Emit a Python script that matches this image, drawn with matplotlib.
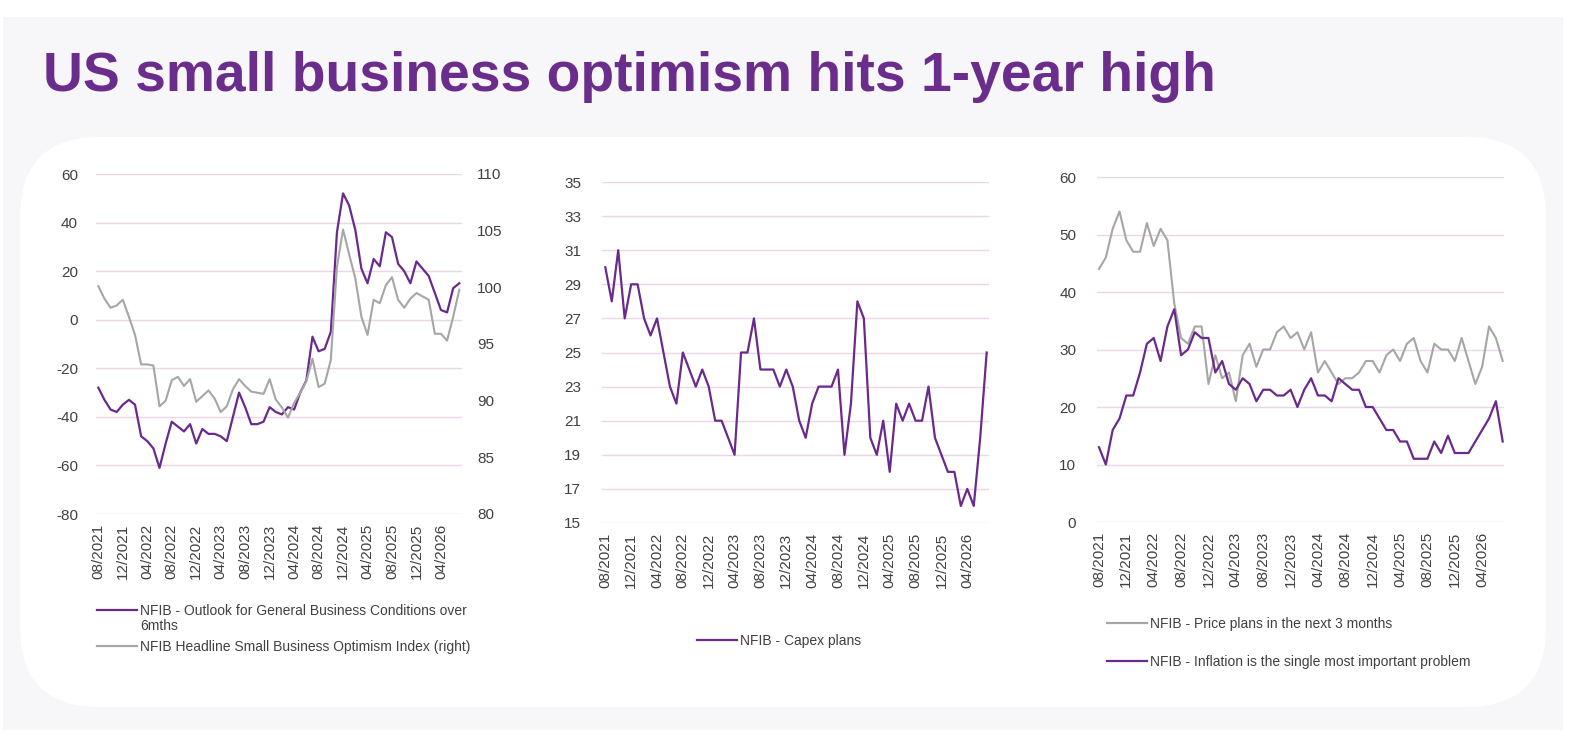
import matplotlib
matplotlib.use("Agg")
import matplotlib.pyplot as plt
from matplotlib.patches import Rectangle, FancyBboxPatch
from matplotlib.lines import Line2D

plt.rcParams['font.family'] = ['Liberation Sans', 'DejaVu Sans']
plt.rcParams['axes.unicode_minus'] = False

PURPLE = '#6a2a8c'
GREY = '#a6a6a6'
GRID = '#ead6ea'
TXT = '#404040'

# monthly data, 08/2021 .. 07/2026
tick_labels = ["08/2021", "12/2021", "04/2022", "08/2022", "12/2022", "04/2023",
               "08/2023", "12/2023", "04/2024", "08/2024", "12/2024", "04/2025",
               "08/2025", "12/2025", "04/2026"]

outlook = [-28, -33, -37, -38, -35, -33, -35, -48, -50, -53,
           -61, -51, -42, -44, -46, -43, -51, -45, -47, -47,
           -48, -50, -40, -30, -36, -43, -43, -42, -36, -38,
           -39, -36, -37, -30, -25, -7, -13, -12, -5, 36,
           52, 47, 37, 21, 15, 25, 22, 36, 34, 23,
           20, 15, 24, 21, 18, 11, 4, 3, 13, 15]

optimism = [100.1, 99.0, 98.2, 98.4, 98.9, 97.4, 95.8, 93.2, 93.2, 93.1,
            89.5, 90.0, 91.8, 92.1, 91.3, 91.9, 89.9, 90.4, 90.9, 90.2,
            89.0, 89.5, 91.0, 91.9, 91.3, 90.8, 90.7, 90.6, 91.9, 90.1,
            89.4, 88.5, 89.8, 90.7, 91.7, 93.7, 91.2, 91.5, 93.6, 101.8,
            105.1, 102.9, 100.8, 97.4, 95.8, 98.9, 98.6, 100.2, 100.9, 98.9,
            98.2, 99.0, 99.5, 99.2, 98.9, 95.9, 95.9, 95.3, 97.4, 99.8]

capex = [30, 28, 31, 27, 29, 29, 27, 26, 27, 25,
         23, 22, 25, 24, 23, 24, 23, 21, 21, 20,
         19, 25, 25, 27, 24, 24, 24, 23, 24, 23,
         21, 20, 22, 23, 23, 23, 24, 19, 22, 28,
         27, 20, 19, 21, 18, 22, 21, 22, 21, 21,
         23, 20, 19, 18, 18, 16, 17, 16, 20, 25]

price_plans = [44, 46, 51, 54, 49, 47, 47, 52, 48, 51,
               49, 38, 32, 31, 34, 34, 24, 29, 25, 26,
               21, 29, 31, 27, 30, 30, 33, 34, 32, 33,
               30, 33, 26, 28, 26, 24, 25, 25, 26, 28,
               28, 26, 29, 30, 28, 31, 32, 28, 26, 31,
               30, 30, 28, 32, 28, 24, 27, 34, 32, 28]

inflation = [13, 10, 16, 18, 22, 22, 26, 31, 32, 28,
             34, 37, 29, 30, 33, 32, 32, 26, 28, 24,
             23, 25, 24, 21, 23, 23, 22, 22, 23, 20,
             23, 25, 22, 22, 21, 25, 24, 23, 23, 20,
             20, 18, 16, 16, 14, 14, 11, 11, 11, 14,
             12, 15, 12, 12, 12, 14, 16, 18, 21, 14]

W, H = 1574, 744
fig = plt.figure(figsize=(W / 100, H / 100), dpi=100, facecolor='white')

# background panels (pixel -> inches)
fig.add_artist(Rectangle((3 / 100, (H - 730) / 100), 1560 / 100, 713 / 100,
                         transform=fig.dpi_scale_trans, facecolor='#f7f7f9',
                         edgecolor='none', zorder=-10))
fig.add_artist(FancyBboxPatch((20 / 100, (H - 707) / 100), 1526 / 100, 570 / 100,
                              boxstyle='round,pad=0,rounding_size=0.8',
                              transform=fig.dpi_scale_trans, facecolor='white',
                              edgecolor='none', zorder=-9))

fig.text(43 / W, 1 - 91 / H, 'US small business optimism hits 1-year high',
         fontsize=39.8, fontweight='bold', color='#6b2d8c', va='baseline')


def make_ax(x0, x1, y0, y1):
    ax = fig.add_axes([x0 / W, 1 - y1 / H, (x1 - x0) / W, (y1 - y0) / H])
    ax.set_facecolor('none')
    for s in ax.spines.values():
        s.set_visible(False)
    ax.grid(axis='y', color=GRID, linewidth=1)
    ax.set_axisbelow(True)
    ax.set_xticks(range(0, 60, 4))
    ax.set_xticklabels(tick_labels, rotation=90)
    ax.tick_params(axis='x', length=0, pad=7, labelsize=11, labelcolor=TXT)
    ax.tick_params(axis='y', length=0, labelsize=11, labelcolor=TXT)
    return ax


def legend_row(x, y, color, text):
    fig.add_artist(Line2D([x / W, (x + 40) / W], [1 - y / H, 1 - y / H],
                          color=color, linewidth=1.6))
    fig.text((x + 43) / W, 1 - (y + 5) / H, text, fontsize=10, color=TXT,
             va='baseline', linespacing=1.15)


x = list(range(len(outlook)))

# panel 1
ax1 = make_ax(96, 462, 174, 514)
ax1.plot(x, outlook, color=PURPLE, linewidth=1.6)
ax1.set_ylim(-80, 60)
ax1.set_yticks(range(-80, 61, 20))
ax1.set_xlim(-0.38, 59.44)
ax1.tick_params(axis='y', pad=13)
ax1r = ax1.twinx()
for s in ax1r.spines.values():
    s.set_visible(False)
ax1r.plot(x, optimism, color=GREY, linewidth=1.5)
ax1r.set_ylim(80, 110)
ax1r.set_yticks(range(80, 111, 5))
ax1r.tick_params(axis='y', length=0, pad=11, labelsize=11, labelcolor=TXT)
legend_row(97, 610, PURPLE, 'NFIB - Outlook for General Business Conditions over')
fig.text(140 / W, 1 - 630 / H, '6mths', fontsize=10, color=TXT, va='baseline')
legend_row(97, 646, GREY, 'NFIB Headline Small Business Optimism Index (right)')

# panel 2
ax2 = make_ax(602, 989, 182, 523)
ax2.plot(x, capex, color=PURPLE, linewidth=1.6)
ax2.set_ylim(15, 35)
ax2.set_yticks(range(15, 36, 2))
ax2.set_xlim(-0.51, 59.36)
ax2.tick_params(axis='y', pad=15)
legend_row(697, 640, PURPLE, 'NFIB - Capex plans')

# panel 3
ax3 = make_ax(1097, 1504, 177, 522)
ax3.plot(x, price_plans, color=GREY, linewidth=1.5)
ax3.plot(x, inflation, color=PURPLE, linewidth=1.6)
ax3.set_ylim(0, 60)
ax3.set_yticks(range(0, 61, 10))
ax3.set_xlim(-0.29, 59.19)
ax3.tick_params(axis='y', pad=15)
legend_row(1107, 623, GREY, 'NFIB - Price plans in the next 3 months')
legend_row(1107, 661, PURPLE, 'NFIB - Inflation is the single most important problem')

fig.savefig('out.png', dpi=100)
